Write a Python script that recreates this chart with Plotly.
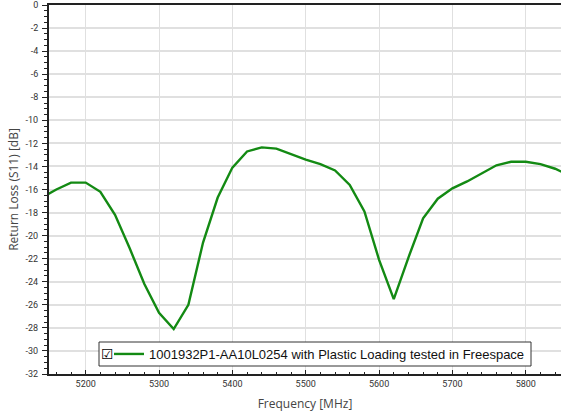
import plotly.graph_objects as go

freq_mhz = [5140, 5160, 5180, 5200, 5220, 5240, 5260, 5280, 5300, 5320,
            5340, 5360, 5380, 5400, 5420, 5440, 5460, 5480, 5500, 5520,
            5540, 5560, 5580, 5600, 5620, 5640, 5660, 5680, 5700, 5720,
            5740, 5760, 5780, 5800, 5820, 5840, 5860]
s11_db = [-16.7, -16.0, -15.4, -15.4, -16.2, -18.2, -21.1, -24.2, -26.7, -28.1,
          -26.0, -20.6, -16.7, -14.1, -12.7, -12.35, -12.45, -12.95, -13.4, -13.8,
          -14.35, -15.6, -17.9, -22.1, -25.5, -21.9, -18.5, -16.8, -15.9, -15.3,
          -14.6, -13.9, -13.6, -13.6, -13.8, -14.2, -14.8]
series_name = "1001932P1-AA10L0254 with Plastic Loading tested in Freespace"
x_ticks = [5200, 5300, 5400, 5500, 5600, 5700, 5800]
y_ticks = list(range(-32, 1, 2))

# plot-area geometry in pixels (used only to place the legend frame)
L, T, W, H = 49, 5, 512, 369
def px(xp):
    return (xp - L) / W
def py(yp):
    return (T + H - yp) / H

fig = go.Figure()
fig.add_trace(go.Scatter(x=freq_mhz, y=s11_db, mode="lines", name=series_name,
                         line=dict(color="#138a13", width=2.4), showlegend=True))

tickfont = dict(family="Liberation Sans Narrow, Roboto, Liberation Sans", size=9, color="#333333")
titlefont = dict(family="Open Sans, Noto Sans", size=12, color="#444444")

# legend frame + checkbox
fig.add_shape(type="rect", xref="paper", yref="paper",
              x0=px(99), x1=px(531), y0=py(366), y1=py(342),
              fillcolor="white", line=dict(color="#333333", width=1), layer="above")
fig.add_annotation(text="☑", xref="paper", yref="paper", x=px(107), y=py(354),
                   xanchor="center", yanchor="middle", showarrow=False,
                   font=dict(family="DejaVu Sans", size=14, color="#000000"))

fig.update_layout(
    width=561, height=417,
    margin=dict(l=L, r=561 - L - W, t=T, b=417 - T - H),
    paper_bgcolor="white", plot_bgcolor="white",
    showlegend=True,
    legend=dict(
        x=px(109), y=py(354), xanchor="left", yanchor="middle",
        bgcolor="rgba(0,0,0,0)", borderwidth=0,
        font=dict(family="Liberation Sans, Arial", size=13, color="#111111"),
        itemwidth=30,
    ),
    xaxis=dict(
        range=[5150, 5848], tickvals=x_ticks, ticktext=[str(v) for v in x_ticks],
        showgrid=True, gridcolor="#e0e0e0", gridwidth=1,
        showline=True, linecolor="#222222", linewidth=2, mirror=True,
        ticks="inside", ticklen=4, tickwidth=1, tickcolor="#222222",
        minor=dict(dtick=20, ticks="inside", ticklen=2, tickcolor="#222222", showgrid=False),
        tickfont=tickfont, zeroline=False, automargin=False,
        title=dict(text="Frequency [MHz]", font=titlefont, standoff=12),
    ),
    yaxis=dict(
        range=[-32, 0], tickvals=y_ticks, ticktext=[str(v) for v in y_ticks],
        showgrid=True, gridcolor="#e0e0e0", gridwidth=1.5,
        showline=True, linecolor="#222222", linewidth=2,
        ticks="outside", ticklen=5, tickwidth=1, tickcolor="#222222",
        minor=dict(dtick=0.5, ticks="outside", ticklen=3, tickcolor="#222222", showgrid=False),
        tickfont=tickfont, zeroline=False, automargin=False, ticklabelstandoff=2,
        title=dict(text="Return Loss (S11) [dB]", font=titlefont, standoff=4),
    ),
)

fig.write_html("out.html", config={"displayModeBar": False},
               post_script="document.body.style.margin='0';")
